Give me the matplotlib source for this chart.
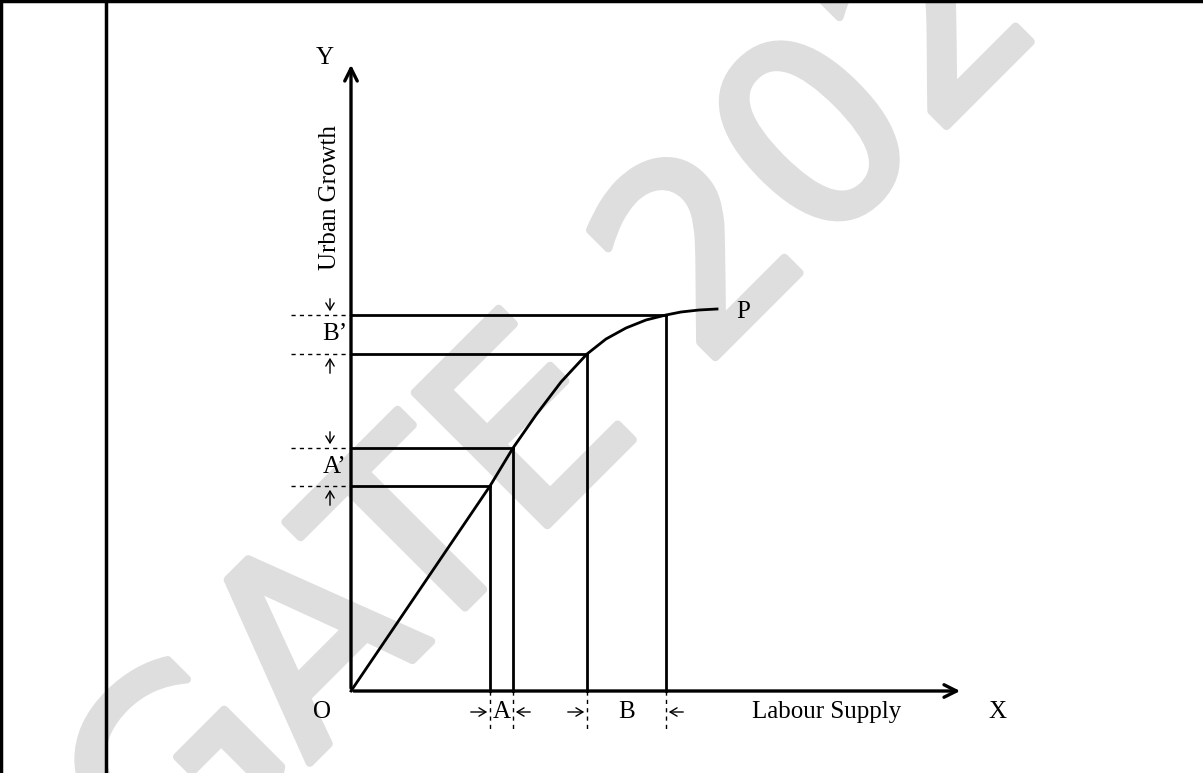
import numpy as np
import matplotlib.pyplot as plt
import matplotlib.patheffects as pe

# Diagram data (1 unit = 10 px, origin at O)
a_x = [13.9, 16.2]          # A interval on the labour-supply axis
b_x = [23.6, 31.5]          # B interval
a_y = [20.5, 24.3]          # A' interval on the urban-growth axis
b_y = [33.7, 37.6]          # B' interval

# Curve O -> P
curve_x = [0, 13.9, 16.2, 18.5, 21.0, 23.6, 25.5, 27.5, 29.5, 31.5, 33.0, 34.8, 36.6]
curve_y = [0, 20.5, 24.3, 27.6, 30.9, 33.7, 35.2, 36.3, 37.1, 37.6, 37.9, 38.1, 38.2]

x_end = 61.2
y_end = 62.9

plt.rcParams['font.family'] = ['Liberation Serif', 'DejaVu Serif']

fig = plt.figure(figsize=(12.03, 7.73), dpi=100)
ax = fig.add_axes([0, 0, 1, 1])
ax.set_xlim(-35.1, 85.2)
ax.set_ylim(-8.2, 69.1)
ax.axis('off')

# watermark
wm = ax.text(26.5, 33.5, "GATE 2024", fontsize=185, color='#dedede', rotation=45,
             ha='center', va='center', family='DejaVu Sans', zorder=0,
             clip_on=True)
wm.set_path_effects([pe.withStroke(linewidth=6, foreground='#dedede',
                                   joinstyle='round', capstyle='round')])

# table frame
ax.axhline(69.0, color='black', lw=2.5)
ax.axvline(-35.0, color='black', lw=2.5)
ax.axvline(-24.5, color='black', lw=2.5)

# axes with arrows
ax.annotate("", xy=(x_end, 0), xytext=(0, 0),
            arrowprops=dict(arrowstyle='->,head_length=0.9,head_width=0.45', lw=2.4, color='black'))
ax.annotate("", xy=(0, y_end), xytext=(0, 0),
            arrowprops=dict(arrowstyle='->,head_length=0.9,head_width=0.45', lw=2.4, color='black'))

# curve
ax.plot(curve_x, curve_y, color='black', lw=2)

# guide lines from the curve to both axes
for xv, yv in zip([a_x[0], a_x[1], b_x[0], b_x[1]], [a_y[0], a_y[1], b_y[0], b_y[1]]):
    ax.plot([xv, xv], [0, yv], color='black', lw=2)
    ax.plot([0, xv], [yv, yv], color='black', lw=2)

# dashed markers on the y side
for yv in a_y + b_y:
    ax.plot([-6.0, 0], [yv, yv], color='black', lw=1, ls=(0, (3, 3)))
# dashed markers on the x side
for xv in a_x + b_x:
    ax.plot([xv, xv], [0, -4.1], color='black', lw=1, ls=(0, (3, 3)))

small = dict(arrowstyle='->,head_length=0.5,head_width=0.3', lw=1, color='black')
# y-side arrows
for lo, hi in [a_y, b_y]:
    ax.annotate("", xy=(-2.1, hi + 0.1), xytext=(-2.1, hi + 1.9), arrowprops=small)
    ax.annotate("", xy=(-2.1, lo - 0.1), xytext=(-2.1, lo - 2.2), arrowprops=small)
# x-side arrows
for lo, hi in [a_x, b_x]:
    ax.annotate("", xy=(lo, -2.1), xytext=(lo - 2.2, -2.1), arrowprops=small)
    ax.annotate("", xy=(hi, -2.1), xytext=(hi + 2.0, -2.1), arrowprops=small)

fs = 18
ax.text(np.mean(a_x), -2.1, "A", fontsize=fs, ha='center', va='center')
ax.text(27.6, -2.1, "B", fontsize=fs, ha='center', va='center')
ax.text(-1.6, np.mean(a_y), "A’", fontsize=fs, ha='center', va='center')
ax.text(-1.6, np.mean(b_y), "B’", fontsize=fs, ha='center', va='center')
ax.text(-2.9, -2.1, "O", fontsize=fs, ha='center', va='center')
ax.text(47.6, -2.1, "Labour Supply", fontsize=fs, ha='center', va='center')
ax.text(64.6, -2.1, "X", fontsize=fs, ha='center', va='center')
ax.text(-2.6, 63.3, "Y", fontsize=fs, ha='center', va='center')
ax.text(39.2, 37.9, "P", fontsize=fs, ha='center', va='center')
ax.text(-2.1, 49.3, "Urban Growth", fontsize=fs, ha='center', va='center', rotation=90)

fig.savefig("out.png", dpi=100)
